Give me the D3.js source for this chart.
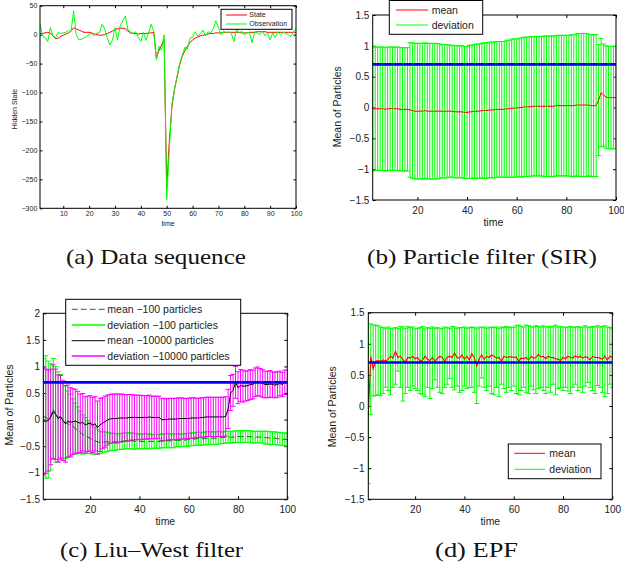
<!DOCTYPE html>
<html>
<head>
<meta charset="utf-8">
<script src="https://cdn.jsdelivr.net/npm/d3@7"></script>
<style>body{margin:0;background:#fff}</style>
</head>
<body>
<script>
// ---- data ----
const time = d3.range(1, 101);
const trueParam = 0.7;

// (a) data sequence
const stateA = [2,2,3,4,3,-2,-7,-6,-3,-1, 1,3,6,12,10,8,6,4,4,4, 3,1,0,-1,-1,0,2,4,6,9,
  10,11,11,10,6,3,2,2,1,2, 2,2,3,3,4,-40,-28,-18,-8,-265, -185,-125,-95,-73,-52,-38,-28,-20,-14,-9,
  -6,-4,-2,-1,0,1,2,2,3,3, 3,4,4,4,4,4,4,4,3,3, 3,4,4,4,5,5,5,5,4,4, 4,4,4,4,4,4,4,4,4,4];
const obsA = [18,-2,-5,-12,12,-2,-5,4,2,3, 4,7,5,41,0,-9,-8,-6,-3,0, 2,-2,3,3,18,10,-5,-18,-10,12,
  -9,15,24,32,8,5,2,5,-5,-12, 4,-10,3,18,5,-44,-20,-27,0,-285, -200,-120,-95,-72,-50,-36,-22,-25,-6,-4,
  5,-2,1,8,-2,5,3,10,24,12, 0,6,3,5,2,-12,10,3,6,0, 3,4,-14,5,3,0,6,-2,3,-9, 3,-5,5,0,4,2,0,-3,5,11];

// (b) particle filter (SIR)
const meanB = [-0.02,-0.02,-0.02,-0.02,-0.02,-0.02,-0.03,-0.02,-0.02,-0.02, -0.02,-0.02,-0.03,-0.03,-0.03,-0.03,-0.04,-0.05,-0.06,-0.06,
  -0.06,-0.06,-0.05,-0.06,-0.06,-0.06,-0.06,-0.06,-0.06,-0.06, -0.06,-0.06,-0.06,-0.06,-0.07,-0.07,-0.07,-0.07,-0.08,-0.08,
  -0.07,-0.07,-0.06,-0.06,-0.06,-0.05,-0.05,-0.05,-0.04,-0.04, -0.04,-0.03,-0.03,-0.03,-0.03,-0.02,-0.02,-0.01,-0.01,-0.01,
  0,0,0.01,0.01,0.01,0.02,0.02,0.02,0.02,0.02, 0.02,0.02,0.02,0.02,0.02,0.03,0.03,0.03,0.03,0.03,
  0.03,0.03,0.03,0.04,0.04,0.04,0.04,0.04,0.04,0.03, 0.03,0.03,0.12,0.24,0.2,0.17,0.16,0.16,0.16,0.16];
const devB = [1.01,1.01,1,1,1,1,1,1,1,1, 1,1,1,1,1,1,1.09,1.1,1.1,1.1, 1.1,1.1,1.1,1.1,1.1,1.1,1.1,1.1,1.09,1.08,
  1.08,1.08,1.07,1.07,1.07,1.07,1.07,1.07,1.07,1.07, 1.08,1.08,1.08,1.09,1.09,1.09,1.1,1.1,1.1,1.1,
  1.1,1.1,1.1,1.1,1.1,1.11,1.11,1.12,1.12,1.12, 1.12,1.13,1.13,1.13,1.13,1.13,1.13,1.13,1.13,1.13,
  1.14,1.14,1.14,1.14,1.14,1.14,1.14,1.14,1.14,1.14, 1.14,1.15,1.15,1.15,1.16,1.16,1.16,1.16,1.15,1.15,
  1.15,1.15,0.9,0.88,0.83,0.83,0.83,0.83,0.83,0.83];

// (c) Liu-West filter, 100 and 10000 particles
const mean100 = [0.05,0.05,0,0.05,0.2,0.1,0.05,0.05,0,-0.05, -0.08,-0.1,-0.13,-0.17,-0.2,-0.24,-0.28,-0.3,-0.33,-0.35,
  -0.38,-0.4,-0.42,-0.43,-0.43,-0.42,-0.42,-0.42,-0.42,-0.42, -0.42,-0.41,-0.41,-0.4,-0.4,-0.4,-0.4,-0.41,-0.41,-0.41,
  -0.41,-0.41,-0.41,-0.41,-0.41,-0.41,-0.41,-0.41,-0.4,-0.4, -0.4,-0.4,-0.4,-0.4,-0.39,-0.39,-0.39,-0.39,-0.38,-0.38,
  -0.37,-0.37,-0.36,-0.36,-0.36,-0.36,-0.35,-0.35,-0.35,-0.35, -0.35,-0.34,-0.34,-0.34,-0.33,-0.33,-0.33,-0.33,-0.32,-0.32,
  -0.32,-0.32,-0.32,-0.32,-0.32,-0.33,-0.33,-0.33,-0.33,-0.33, -0.34,-0.34,-0.35,-0.35,-0.35,-0.36,-0.36,-0.37,-0.37,-0.38];
const dev100 = [1.1,1.15,1.1,1,0.95,0.9,0.85,0.8,0.72,0.68, 0.62,0.58,0.52,0.48,0.44,0.4,0.37,0.34,0.31,0.29,
  0.27,0.25,0.23,0.21,0.2,0.19,0.18,0.17,0.16,0.16, 0.15,0.15,0.15,0.15,0.15,0.15,0.15,0.15,0.14,0.14,
  0.14,0.14,0.14,0.14,0.13,0.13,0.13,0.13,0.13,0.13, 0.13,0.13,0.13,0.13,0.12,0.12,0.12,0.12,0.12,0.12,
  0.12,0.12,0.12,0.12,0.12,0.12,0.12,0.12,0.12,0.12, 0.12,0.12,0.11,0.11,0.11,0.11,0.11,0.11,0.11,0.11,
  0.11,0.11,0.11,0.11,0.11,0.11,0.11,0.11,0.11,0.11, 0.12,0.12,0.12,0.12,0.12,0.12,0.12,0.12,0.12,0.12];
const mean10000 = [-0.03,-0.03,-0.02,0.05,0.15,0.1,0.02,0.05,-0.02,-0.08, -0.03,-0.05,-0.04,-0.03,-0.05,-0.07,-0.05,-0.1,-0.08,-0.07,
  -0.1,-0.08,-0.15,-0.1,-0.07,-0.04,-0.01,0.01,0.02,0.02, 0.02,0.03,0.03,0.03,0.03,0.04,0.04,0.04,0.04,0.04,
  0.04,0.04,0.04,0.05,0.04,0.04,0.04,0.04,0,0, 0,0.01,0.01,0.01,0.01,0.02,0.02,0.02,0.02,0.02,
  0.03,0.03,0.03,0.03,0.04,0.04,0.05,0.05,0.05,0.05, 0.05,0.05,0.05,0.05,0.06,0.2,0.5,0.55,0.7,0.6,
  0.64,0.63,0.63,0.64,0.66,0.66,0.7,0.72,0.7,0.68, 0.66,0.66,0.67,0.66,0.65,0.66,0.68,0.66,0.7,0.7];
const dev10000 = [1,0.98,0.95,0.9,0.88,0.85,0.82,0.78,0.75,0.72, 0.68,0.65,0.62,0.6,0.58,0.55,0.54,0.53,0.52,0.52,
  0.52,0.51,0.5,0.5,0.48,0.48,0.47,0.46,0.46,0.46, 0.46,0.45,0.45,0.44,0.44,0.43,0.43,0.42,0.42,0.42,
  0.41,0.41,0.41,0.41,0.4,0.4,0.4,0.4,0.4,0.4, 0.39,0.39,0.39,0.39,0.39,0.39,0.39,0.38,0.38,0.38,
  0.38,0.38,0.37,0.37,0.37,0.37,0.37,0.37,0.37,0.37, 0.37,0.37,0.37,0.37,0.37,0.37,0.33,0.3,0.3,0.3,
  0.3,0.3,0.28,0.28,0.28,0.27,0.27,0.27,0.26,0.26, 0.25,0.25,0.25,0.24,0.24,0.24,0.23,0.23,0.23,0.23];

// (d) EPF
const meanD = [-0.15,0.8,0.6,0.72,0.73,0.72,0.74,0.72,0.75,0.8, 0.77,0.88,0.78,0.8,0.75,0.7,0.78,0.77,0.8,0.76,
  0.78,0.72,0.74,0.8,0.75,0.73,0.78,0.72,0.76,0.8, 0.78,0.72,0.78,0.8,0.78,0.85,0.78,0.77,0.82,0.75,
  0.8,0.74,0.84,0.78,0.64,0.76,0.82,0.75,0.8,0.78, 0.82,0.8,0.77,0.78,0.72,0.8,0.78,0.79,0.79,0.78,
  0.79,0.72,0.77,0.76,0.78,0.74,0.8,0.77,0.78,0.83, 0.79,0.8,0.76,0.8,0.78,0.78,0.76,0.75,0.73,0.78,
  0.76,0.8,0.78,0.77,0.81,0.78,0.8,0.77,0.79,0.78, 0.74,0.8,0.78,0.78,0.77,0.75,0.8,0.74,0.8,0.78];
const upperD = [1.5,1.32,1.3,1.3,1.29,1.27,1.26,1.25,1.27,1.25, 1.24,1.26,1.25,1.28,1.27,1.25,1.28,1.26,1.27,1.24,
  1.25,1.26,1.28,1.24,1.26,1.25,1.27,1.25,1.26,1.24, 1.25,1.27,1.26,1.25,1.28,1.27,1.25,1.26,1.26,1.27,
  1.25,1.26,1.27,1.26,1.24,1.27,1.26,1.27,1.25,1.26, 1.27,1.26,1.27,1.25,1.27,1.26,1.28,1.26,1.27,1.26,
  1.29,1.3,1.28,1.27,1.3,1.29,1.28,1.27,1.29,1.28, 1.27,1.29,1.27,1.28,1.27,1.28,1.3,1.27,1.28,1.27,
  1.26,1.27,1.28,1.26,1.27,1.28,1.26,1.27,1.29,1.27, 1.26,1.28,1.27,1.29,1.27,1.28,1.29,1.27,1.26,1.25];
const lowerD = [-1.25,-0.14,0.16,0.17,0.18,0.17,0.2,0.3,0.25,0.18, 0.3,0.35,0.56,0.3,0.08,0.2,0.3,0.25,0.32,0.28,
  0.25,0.2,0.18,0.15,0.3,0.12,0.28,0.42,0.3,0.22, 0.2,0.3,0.35,0.44,0.3,0.26,0.32,0.22,0.25,0.32,
  0.28,0.3,0.3,0.22,0.04,0.32,0.45,0.3,0.25,0.32, 0.2,0.18,0.3,0.15,0.35,0.28,0.22,0.3,0.25,0.32,
  0.2,0.18,0.25,0.3,0.22,0.2,0.32,0.26,0.2,0.28, 0.3,0.25,0.2,0.3,0.22,0.35,0.18,0.28,0.3,0.25,
  0.3,0.24,0.2,0.3,0.35,0.25,0.3,0.22,0.32,0.38, 0.3,0.25,0.2,0.33,0.3,0.22,0.15,0.2,0.35,0.3];

// ---- drawing ----
const W = 624, H = 570;
const sans = '"Liberation Sans", Arial, sans-serif';
const serif = '"Liberation Serif", "Times New Roman", serif';
const minus = d => d < 0 ? '\u2212' + Math.abs(d) : String(d);

const svg = d3.select('body').append('svg').attr('width', W).attr('height', H);
svg.append('rect').attr('width', W).attr('height', H).attr('fill', '#fff');

let clipId = 0;
function panel(p) {
  const g = svg.append('g');
  const x = d3.scaleLinear().domain(p.xDomain).range([p.left, p.right]);
  const y = d3.scaleLinear().domain(p.yDomain).range([p.bottom, p.top]);

  const axes = [
    [d3.axisBottom(x).tickValues(p.xTicks).tickSize(-p.tick).tickPadding(p.xPad).tickFormat(minus), `translate(0,${p.bottom})`],
    [d3.axisTop(x).tickValues(p.xTicks).tickSize(-p.tick).tickFormat(''), `translate(0,${p.top})`],
    [d3.axisLeft(y).tickValues(p.yTicks).tickSize(-p.tick).tickPadding(p.yPad).tickFormat(minus), `translate(${p.left},0)`],
    [d3.axisRight(y).tickValues(p.yTicks).tickSize(-p.tick).tickFormat(''), `translate(${p.right},0)`]
  ];
  axes.forEach(([ax, tr]) => {
    g.append('g').attr('transform', tr).call(ax)
      .attr('font-family', sans).attr('font-size', p.font);
  });
  g.selectAll('.domain').remove();
  g.selectAll('.tick line').attr('stroke', '#000');
  g.selectAll('.tick text').attr('fill', '#222');

  const id = 'clip' + (clipId++);
  g.append('clipPath').attr('id', id).append('rect')
    .attr('x', p.left).attr('y', p.top).attr('width', p.right - p.left).attr('height', p.bottom - p.top);
  const plot = g.append('g').attr('clip-path', `url(#${id})`);

  // box drawn last by caller via finish()
  const finish = () => {
    g.append('rect').attr('x', p.left).attr('y', p.top)
      .attr('width', p.right - p.left).attr('height', p.bottom - p.top)
      .attr('fill', 'none').attr('stroke', '#000').attr('stroke-width', 1);
    g.append('text').attr('x', (p.left + p.right) / 2 + p.xlabelDx).attr('y', p.xlabelY)
      .attr('text-anchor', 'middle').attr('font-family', sans).attr('font-size', p.labelFont)
      .attr('fill', '#222').text('time');
    g.append('text').attr('transform', `translate(${p.ylabelX},${p.ylabelY}) rotate(-90)`)
      .attr('text-anchor', 'middle').attr('font-family', sans).attr('font-size', p.labelFont)
      .attr('fill', '#222').text(p.ylabel);
  };
  return { g, x, y, plot, finish };
}

function drawLine(pn, values, color, width, dash) {
  const line = d3.line().x((d, i) => pn.x(time[i])).y(d => pn.y(d));
  pn.plot.append('path').datum(values).attr('d', line)
    .attr('fill', 'none').attr('stroke', color).attr('stroke-width', width)
    .attr('stroke-dasharray', dash || null);
}

function trueLine(pn) {
  const dom = pn.x.domain();
  const line = d3.line().x(d => pn.x(d)).y(() => pn.y(trueParam));
  pn.plot.append('path').datum(dom).attr('d', line)
    .attr('fill', 'none').attr('stroke', '#0000ff').attr('stroke-width', 2.6);
}

function errorbars(pn, lo, hi, color) {
  const path = d3.path();
  lo.forEach((l, i) => {
    const t = time[i];
    const xc = pn.x(t), xl = pn.x(t - 0.99), xr = pn.x(t + 0.99);
    const yl = pn.y(l), yh = pn.y(hi[i]);
    path.moveTo(xc, yl); path.lineTo(xc, yh);
    path.moveTo(xl, yl); path.lineTo(xr, yl);
    path.moveTo(xl, yh); path.lineTo(xr, yh);
  });
  pn.plot.append('path').attr('d', path.toString())
    .attr('fill', 'none').attr('stroke', color).attr('stroke-width', 1);
}

function legend(pn, L) {
  const lg = pn.g.append('g');
  lg.append('rect').attr('x', L.x).attr('y', L.y).attr('width', L.w).attr('height', L.h)
    .attr('fill', '#fff').attr('stroke', '#000').attr('stroke-width', 1);
  L.items.forEach((it, i) => {
    const yy = L.rows[i];
    lg.append('line').attr('x1', L.l0).attr('x2', L.l1).attr('y1', yy).attr('y2', yy)
      .attr('stroke', it.color).attr('stroke-width', it.w || 1).attr('stroke-dasharray', it.dash || null);
    lg.append('text').attr('x', L.tx).attr('y', yy).attr('dy', '0.35em')
      .attr('font-family', sans).attr('font-size', L.font).attr('fill', '#222').text(it.label);
  });
}

function caption(cx, baseline, width, txt) {
  svg.append('text').attr('x', cx).attr('y', baseline).attr('text-anchor', 'middle')
    .attr('font-family', serif).attr('font-size', 21).attr('fill', '#111')
    .attr('textLength', width).attr('lengthAdjust', 'spacingAndGlyphs').text(txt);
}

// (a)
const pA = panel({ left: 40, right: 296, top: 5.7, bottom: 208.3, xDomain: [1, 100], yDomain: [-300, 50],
  xTicks: d3.range(10, 101, 10), yTicks: d3.range(-300, 51, 50), tick: 2.5, font: 7, xPad: 3, yPad: 2.7,
  labelFont: 7, xlabelY: 225.5, xlabelDx: 0, ylabel: 'Hidden State', ylabelX: 16.5, ylabelY: 109 });
drawLine(pA, stateA, '#ff0000', 1);
drawLine(pA, obsA, '#00ff00', 1);
pA.finish();
legend(pA, { x: 221, y: 9.3, w: 71, h: 20, rows: [15, 24], l0: 226, l1: 247, tx: 249.3, font: 7,
  items: [{ label: 'State', color: '#ff0000' }, { label: 'Observation', color: '#00ff00' }] });

// (b)
const pB = panel({ left: 372.7, right: 616, top: 15, bottom: 200, xDomain: [2, 100], yDomain: [-1.5, 1.5],
  xTicks: [20, 40, 60, 80, 100], yTicks: [-1.5, -1, -0.5, 0, 0.5, 1, 1.5], tick: 3, font: 10, xPad: 6.4, yPad: 3.4,
  labelFont: 10.5, xlabelY: 225.5, xlabelDx: -1, ylabel: 'Mean of Particles', ylabelX: 341, ylabelY: 106.7 });
errorbars(pB, meanB.map((m, i) => m - devB[i]), meanB.map((m, i) => m + devB[i]), '#00ff00');
drawLine(pB, meanB, '#ff0000', 1);
trueLine(pB);
pB.finish();
legend(pB, { x: 389.3, y: 0.5, w: 93.4, h: 33.8, rows: [10, 25], l0: 396, l1: 428, tx: 431.7, font: 10.5,
  items: [{ label: 'mean', color: '#ff0000' }, { label: 'deviation', color: '#00ff00' }] });

// (c)
const pC = panel({ left: 43.3, right: 287.3, top: 313.3, bottom: 499.3, xDomain: [1, 100], yDomain: [-1.5, 2],
  xTicks: [20, 40, 60, 80, 100], yTicks: [-1.5, -1, -0.5, 0, 0.5, 1, 1.5, 2], tick: 3, font: 10, xPad: 6.2, yPad: 3.3,
  labelFont: 10.5, xlabelY: 525, xlabelDx: 0, ylabel: 'Mean of Particles', ylabelX: 12.5, ylabelY: 405 });
errorbars(pC, mean100.map((m, i) => m - dev100[i]), mean100.map((m, i) => m + dev100[i]), '#00ff00');
errorbars(pC, mean10000.map((m, i) => m - dev10000[i]), mean10000.map((m, i) => m + dev10000[i]), '#ff00ff');
drawLine(pC, mean100, '#007f00', 1, '6,3');
drawLine(pC, mean10000, '#000000', 1);
trueLine(pC);
pC.finish();
legend(pC, { x: 65.7, y: 299.3, w: 175, h: 66, rows: [309.3, 325, 340.7, 356], l0: 71.7, l1: 105, tx: 107.3, font: 10.5,
  items: [{ label: 'mean \u2212100 particles', color: '#007f00', dash: '6,3' },
          { label: 'deviation \u2212100 particles', color: '#00ff00', w: 1.6 },
          { label: 'mean \u221210000 particles', color: '#000000' },
          { label: 'deviation \u221210000 particles', color: '#ff00ff', w: 1.6 }] });

// (d)
const pD = panel({ left: 368.3, right: 612.3, top: 312.7, bottom: 499.3, xDomain: [1, 100], yDomain: [-1.5, 1.5],
  xTicks: [20, 40, 60, 80, 100], yTicks: [-1.5, -1, -0.5, 0, 0.5, 1, 1.5], tick: 3, font: 10, xPad: 6.2, yPad: 3.8,
  labelFont: 10.5, xlabelY: 525, xlabelDx: 0, ylabel: 'Mean of Particles', ylabelX: 336, ylabelY: 406.7 });
errorbars(pD, lowerD, upperD, '#00ff00');
drawLine(pD, meanD, '#ff0000', 1.1);
trueLine(pD);
pD.finish();
legend(pD, { x: 508.3, y: 444, w: 92.7, h: 34.7, rows: [453.3, 469.3], l0: 514.3, l1: 545, tx: 549.3, font: 10.5,
  items: [{ label: 'mean', color: '#ff0000' }, { label: 'deviation', color: '#00ff00' }] });

// captions
caption(156, 264, 180, '(a) Data sequence');
caption(482, 264, 230, '(b) Particle filter (SIR)');
caption(151.6, 556.5, 183, '(c) Liu\u2013West filter');
caption(476.6, 556.5, 83, '(d) EPF');
</script>
</body>
</html>
